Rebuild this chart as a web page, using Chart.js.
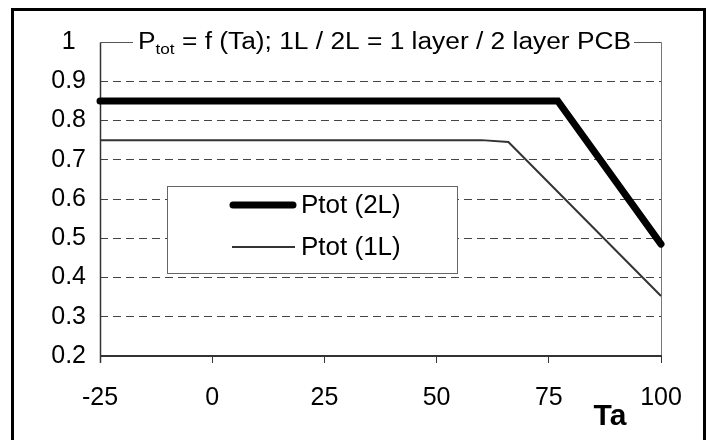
<!DOCTYPE html>
<html>
<head>
<meta charset="utf-8">
<script src="https://cdn.jsdelivr.net/npm/chart.js@4.4.1/dist/chart.umd.min.js"></script>
<style>
  html, body { margin: 0; padding: 0; background: #fff; }
  #wrap { width: 709px; height: 440px; position: relative; }
</style>
</head>
<body>
<div id="wrap"><canvas id="c" width="709" height="440"></canvas></div>
<script>
// ---- data ----
const ta2L = [-25, 77, 100];
const ptot2L = [0.85, 0.85, 0.485];
const ta1L = [-25, 60, 66, 100];
const ptot1L = [0.75, 0.75, 0.745, 0.353];
const xTicks = [-25, 0, 25, 50, 75, 100];
const yTicks = [0.2, 0.3, 0.4, 0.5, 0.6, 0.7, 0.8, 0.9, 1];
const seriesNames = ['Ptot (2L)', 'Ptot (1L)'];
const titleMain = 'P';
const titleSub = 'tot';
const titleRest = ' = f (Ta); 1L / 2L = 1 layer / 2 layer PCB';
const xAxisName = 'Ta';

const FONT = '"Liberation Sans", Arial, Helvetica, sans-serif';

const pts = (xs, ys) => xs.map((x, i) => ({ x: x, y: ys[i] }));

const decor = {
  id: 'decor',
  beforeDraw(chart) {
    const ctx = chart.ctx;
    ctx.save();
    ctx.fillStyle = '#fff';
    ctx.fillRect(0, 0, chart.width, chart.height);
    ctx.restore();
  },
  beforeDatasetsDraw(chart) {
    const ctx = chart.ctx;
    const xs = chart.scales.x, ys = chart.scales.y;
    const yTop = Math.round(ys.getPixelForValue(1)) + 0.5;
    const yBot = ys.getPixelForValue(0.2);
    const xL = Math.round(xs.getPixelForValue(-25)) + 0.5;
    const xR = Math.round(xs.getPixelForValue(100)) + 0.5;
    ctx.save();
    ctx.font = '23px ' + FONT;
    const wMain = ctx.measureText(titleMain).width;
    const wRest = ctx.measureText(titleRest).width;
    ctx.font = '15px ' + FONT;
    const wSub = ctx.measureText(titleSub).width;
    const total = wMain + wSub + wRest;
    const tLeft = 138, tRight = 631;
    const sx = (tRight - tLeft) / total;
    // top frame line with a gap for the title
    ctx.strokeStyle = '#555';
    ctx.lineWidth = 1;
    ctx.beginPath();
    ctx.moveTo(xL, yTop); ctx.lineTo(tLeft - 5, yTop);
    ctx.moveTo(tRight + 3, yTop); ctx.lineTo(xR, yTop);
    ctx.stroke();
    // right frame line
    ctx.strokeStyle = '#777';
    ctx.beginPath();
    ctx.moveTo(xR, yTop); ctx.lineTo(xR, yBot);
    ctx.stroke();
    // left axis
    ctx.strokeStyle = '#333';
    ctx.lineWidth = 1.5;
    ctx.beginPath();
    ctx.moveTo(xL, yTop); ctx.lineTo(xL, yBot + 7);
    ctx.stroke();
    // bottom axis
    ctx.lineWidth = 2;
    ctx.beginPath();
    ctx.moveTo(xL - 0.5, yBot); ctx.lineTo(xR + 0.5, yBot);
    ctx.stroke();
    // title
    const baseY = 49;
    ctx.fillStyle = '#000';
    ctx.textBaseline = 'alphabetic';
    ctx.textAlign = 'left';
    ctx.translate(tLeft, 0);
    ctx.scale(sx, 1);
    ctx.font = '23px ' + FONT;
    ctx.fillText(titleMain, 0, baseY);
    ctx.font = '15px ' + FONT;
    ctx.fillText(titleSub, wMain, baseY + 5);
    ctx.font = '23px ' + FONT;
    ctx.fillText(titleRest, wMain + wSub, baseY);
    ctx.restore();
  },
  afterDatasetsDraw(chart) {
    const ctx = chart.ctx;
    ctx.save();
    // legend box
    const bx = 167.5, by = 186.5, bw = 290, bh = 87;
    ctx.fillStyle = '#fff';
    ctx.fillRect(bx, by, bw, bh);
    ctx.strokeStyle = '#666';
    ctx.lineWidth = 1;
    ctx.strokeRect(bx, by, bw, bh);
    const ds = chart.data.datasets;
    const rows = [205, 247];
    ds.forEach((d, i) => {
      ctx.strokeStyle = d.borderColor;
      ctx.lineWidth = d.borderWidth;
      ctx.lineCap = i === 0 ? 'round' : 'butt';
      ctx.beginPath();
      ctx.moveTo(i === 0 ? 233 : 232, rows[i]);
      ctx.lineTo(i === 0 ? 293 : 295, rows[i]);
      ctx.stroke();
      ctx.fillStyle = '#000';
      ctx.font = '26px ' + FONT;
      ctx.textBaseline = 'middle';
      ctx.textAlign = 'left';
      ctx.fillText(d.label, 301, rows[i] + 1);
    });
    // axis name
    ctx.font = 'bold 30px ' + FONT;
    ctx.textAlign = 'center';
    ctx.textBaseline = 'alphabetic';
    ctx.fillText(xAxisName, 610, 425);
    // outer border
    ctx.strokeStyle = '#000';
    ctx.lineWidth = 3;
    ctx.strokeRect(12.5, 9.5, 692, 440);
    ctx.restore();
  }
};

new Chart(document.getElementById('c'), {
  type: 'scatter',
  data: {
    datasets: [
      {
        label: seriesNames[0],
        data: pts(ta2L, ptot2L),
        showLine: true,
        clip: false,
        borderColor: '#000',
        backgroundColor: '#000',
        borderWidth: 7,
        borderCapStyle: 'round',
        borderJoinStyle: 'miter',
        pointRadius: 0,
        tension: 0
      },
      {
        label: seriesNames[1],
        data: pts(ta1L, ptot1L),
        showLine: true,
        clip: false,
        borderColor: '#333',
        backgroundColor: '#333',
        borderWidth: 2,
        pointRadius: 0,
        tension: 0
      }
    ]
  },
  options: {
    responsive: false,
    animation: false,
    devicePixelRatio: 1,
    layout: { padding: { left: 0, top: 42, right: 48, bottom: 0 } },
    plugins: {
      legend: { display: false },
      tooltip: { enabled: false },
      title: { display: false }
    },
    scales: {
      x: {
        type: 'linear',
        min: -25,
        max: 100,
        afterBuildTicks: (s) => { s.ticks = xTicks.map(v => ({ value: v })); },
        afterFit: (s) => { s.height = 84; },
        grid: {
          drawOnChartArea: false,
          drawTicks: true,
          tickLength: 7,
          color: '#333',
          lineWidth: 1
        },
        border: { display: false },
        ticks: {
          color: '#000',
          font: { family: FONT, size: 25 },
          padding: 20,
          maxRotation: 0,
          autoSkip: false
        }
      },
      y: {
        type: 'linear',
        min: 0.2,
        max: 1,
        afterBuildTicks: (s) => { s.ticks = yTicks.map(v => ({ value: v })); },
        afterFit: (s) => { s.width = 100; },
        grid: {
          drawTicks: false,
          color: (c) => (c.tick && (Math.abs(c.tick.value - 0.2) < 1e-6 || Math.abs(c.tick.value - 1) < 1e-6)) ? 'rgba(0,0,0,0)' : '#444',
          lineWidth: 1
        },
        border: { display: false, dash: [8, 5] },
        ticks: {
          color: '#000',
          font: { family: FONT, size: 25 },
          crossAlign: 'center',
          padding: 14,
          callback: (v) => (Math.abs(v - 1) < 1e-6 ? '1' : v.toFixed(1))
        }
      }
    }
  },
  plugins: [decor]
});
</script>
</body>
</html>
